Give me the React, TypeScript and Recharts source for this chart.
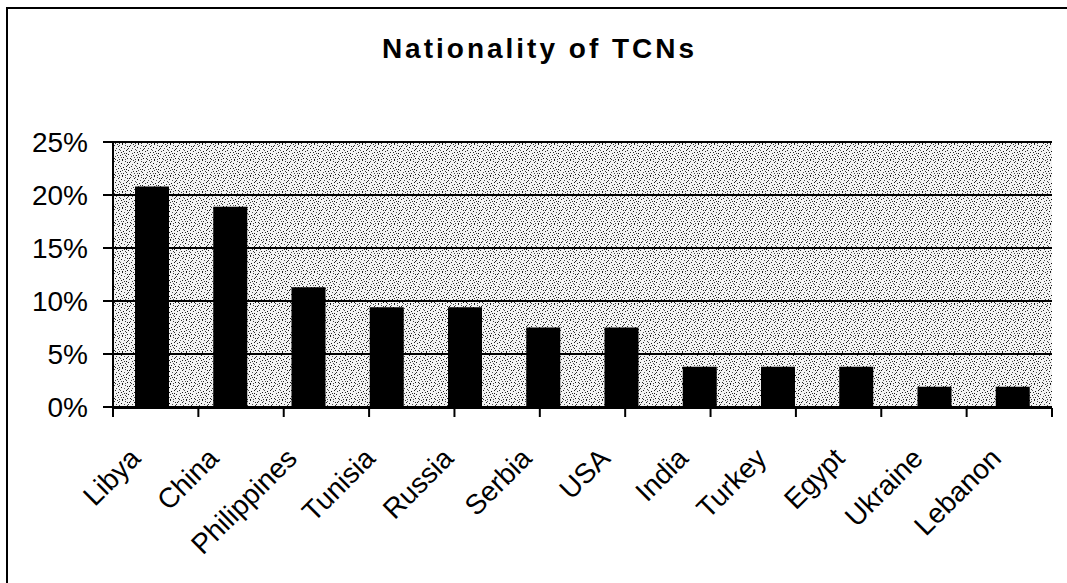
import React from 'react';
import { BarChart, Bar, XAxis, YAxis, CartesianGrid } from 'recharts';

const countries = ['Libya', 'China', 'Philippines', 'Tunisia', 'Russia', 'Serbia', 'USA', 'India', 'Turkey', 'Egypt', 'Ukraine', 'Lebanon'];
const shares = [20.8, 18.9, 11.3, 9.4, 9.4, 7.5, 7.5, 3.8, 3.8, 3.8, 1.9, 1.9];
const yTicks = [0, 5, 10, 15, 20, 25];
const boundaryTicks = [0, 1, 2, 3, 4, 5, 6, 7, 8, 9, 10, 11, 12];
const title = 'Nationality of TCNs';

const data = countries.map((c, i) => ({ country: c, share: shares[i] }));

const dots: [number, number, string][] = [
  [1, 2, '#111'], [5, 0, '#333'], [9, 3, '#111'], [13, 1, '#444'], [3, 6, '#222'], [7, 5, '#444'],
  [11, 7, '#111'], [15, 5, '#333'], [0, 10, '#222'], [4, 9, '#444'], [8, 11, '#111'], [12, 9, '#333'],
  [2, 14, '#222'], [6, 13, '#444'], [10, 15, '#111'], [14, 12, '#333'], [6, 2, '#222'], [12, 4, '#555'],
  [1, 7, '#333'], [9, 8, '#222'], [14, 9, '#111'], [3, 12, '#555'], [11, 13, '#222'], [7, 15, '#333'],
  [15, 14, '#111'], [4, 4, '#555'], [10, 0, '#222'], [13, 11, '#444'], [0, 4, '#333'], [8, 6, '#555'],
  [2, 1, '#444'], [6, 8, '#222'], [10, 10, '#444'], [14, 6, '#222'], [5, 11, '#333'], [13, 15, '#444'],
  [3, 15, '#333'], [9, 13, '#555'], [15, 2, '#222'], [7, 1, '#555'],
];

const FONT = 'Arial, "Liberation Sans", sans-serif';

const CategoryTick = (props: any) => {
  const { x, y, payload } = props;
  const tx = x - 10;
  const ty = y + 53;
  return (
    <text
      x={tx}
      y={ty}
      textAnchor="end"
      fontSize={28}
      fontFamily={FONT}
      fill="#000"
      transform={`rotate(-45, ${tx}, ${ty})`}
    >
      {payload.value}
    </text>
  );
};

export default function App() {
  return (
    <div style={{ position: 'fixed', left: 0, top: 0, width: 1067, height: 583, background: '#fff', overflow: 'hidden' }}>
      <div
        style={{
          position: 'absolute', left: 6, top: 7, width: 1100, height: 620,
          borderLeft: '2.5px solid #000', borderTop: '2.5px solid #000', boxSizing: 'border-box',
        }}
      />
      <div
        style={{
          position: 'absolute', left: 0, top: 35, width: 1079, textAlign: 'center',
          fontFamily: FONT, fontWeight: 'bold', fontSize: 28, lineHeight: '28px', letterSpacing: 3, color: '#000',
        }}
      >
        {title}
      </div>
      <div style={{ position: 'absolute', left: 0, top: 0 }}>
        <BarChart width={1067} height={583} data={data} margin={{ top: 142, right: 15, bottom: 66, left: 0 }}>
          <defs>
            <pattern id="stipple" width={16} height={16} patternUnits="userSpaceOnUse">
              <rect width={16} height={16} fill="#f3f3f3" />
              {dots.map(([dx, dy, c], i) => (
                <rect key={i} x={dx} y={dy} width={1} height={1} fill={c} />
              ))}
            </pattern>
          </defs>
          <CartesianGrid vertical={false} stroke="#000" strokeWidth={2} fill="url(#stipple)" />
          <XAxis
            dataKey="country"
            interval={0}
            height={1}
            axisLine={false}
            tickLine={false}
            tickSize={0}
            tickMargin={0}
            tick={<CategoryTick />}
          />
          <XAxis
            xAxisId="n"
            type="number"
            domain={[0, 12]}
            ticks={boundaryTicks}
            allowDataOverflow
            height={109}
            tickSize={9}
            tickFormatter={() => ''}
            axisLine={{ stroke: '#000', strokeWidth: 2 }}
            tickLine={{ stroke: '#000', strokeWidth: 2 }}
          />
          <YAxis
            domain={[0, 25]}
            ticks={yTicks}
            width={113}
            tickSize={10}
            tickMargin={15}
            tickFormatter={(v: number) => `${v}%`}
            tick={{ fontSize: 28, fill: '#000', fontFamily: FONT }}
            axisLine={{ stroke: '#000', strokeWidth: 2 }}
            tickLine={{ stroke: '#000', strokeWidth: 2 }}
          />
          <YAxis
            yAxisId="r"
            orientation="right"
            width={0}
            domain={[0, 25]}
            tick={false}
            tickLine={false}
            axisLine={{ stroke: '#000', strokeWidth: 2 }}
          />
          <Bar dataKey="share" fill="#000" barSize={34} isAnimationActive={false} />
        </BarChart>
      </div>
    </div>
  );
}
